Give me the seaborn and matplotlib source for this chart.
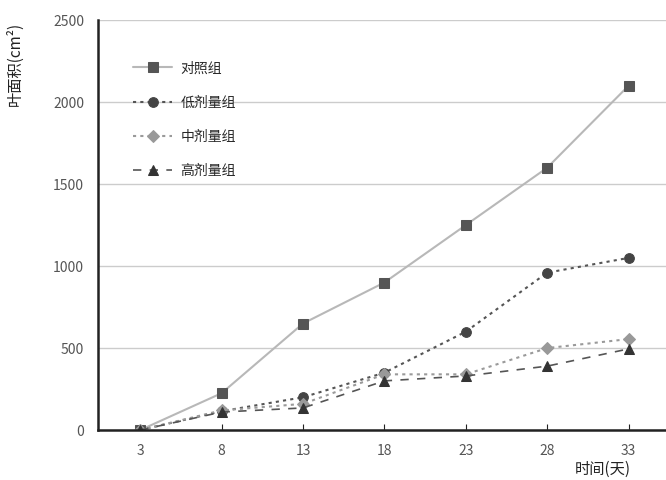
import pandas as pd
import matplotlib.pyplot as plt
import seaborn as sns

sns.set_style("white")
plt.rcParams['font.family'] = ['Noto Sans CJK SC', 'DejaVu Sans']

days = [3, 8, 13, 18, 23, 28, 33]
control = [0, 225, 650, 900, 1250, 1600, 2100]
low_dose = [0, 115, 200, 350, 600, 960, 1050]
mid_dose = [0, 120, 160, 340, 340, 500, 555]
high_dose = [0, 110, 135, 300, 330, 390, 495]
group_names = ["对照组", "低剂量组", "中剂量组", "高剂量组"]

# long format for seaborn
rows = []
for name, vals in zip(group_names, [control, low_dose, mid_dose, high_dose]):
    for d, v in zip(days, vals):
        rows.append({"day": d, "area": v, "group": name})
df = pd.DataFrame(rows)

styles = {
    "对照组": dict(color="#b8b8b8", ls="-", marker="s", mfc="#555555", mec="#555555", ms=7, lw=1.5),
    "低剂量组": dict(color="#555555", ls=(0, (1.5, 2)), marker="o", mfc="#444444", mec="#444444", ms=7, lw=1.5),
    "中剂量组": dict(color="#9a9a9a", ls=(0, (1.5, 2)), marker="D", mfc="#999999", mec="#999999", ms=6, lw=1.5),
    "高剂量组": dict(color="#555555", ls=(0, (5, 5)), marker="^", mfc="#333333", mec="#333333", ms=7, lw=1.2),
}

fig = plt.figure(figsize=(6.66, 4.8), dpi=100)
ax = fig.add_axes([0.147, 0.104, 0.853, 0.854])

for name in group_names:
    st = styles[name]
    sns.lineplot(data=df[df["group"] == name], x="day", y="area", ax=ax,
                 color=st["color"], linestyle=st["ls"], linewidth=st["lw"],
                 marker=st["marker"], markersize=st["ms"],
                 markerfacecolor=st["mfc"], markeredgecolor=st["mec"],
                 label=name)

ax.set_xlim(0.4, 35.3)
ax.set_ylim(0, 2500)
ax.set_xticks(days)
ax.set_yticks([0, 500, 1000, 1500, 2000, 2500])
ax.yaxis.grid(True, color="#cccccc", lw=1)
ax.xaxis.grid(False)
for s in ["top", "right"]:
    ax.spines[s].set_visible(False)
ax.spines["left"].set_color("#222222")
ax.spines["left"].set_linewidth(1.8)
ax.spines["bottom"].set_color("#222222")
ax.spines["bottom"].set_linewidth(1.8)
ax.tick_params(axis="both", labelsize=10, colors="#555555", length=0, pad=10)
ax.tick_params(axis="x", bottom=True, length=4, color="#222222", direction="in")

ax.set_xlabel("")
ax.set_ylabel("")
fig.text(0.022, 0.955, "叶面积(cm²)", rotation=90, ha="center", va="top", fontsize=11, color="#222222")
fig.text(0.905, 0.005, "时间(天)", ha="center", va="bottom", fontsize=11, color="#222222")

ax.legend(loc="upper left", bbox_to_anchor=(0.04, 0.93), frameon=False,
          fontsize=10, handlelength=2.8, labelspacing=1.45, handletextpad=0.6)

fig.savefig("out.png", dpi=100)
